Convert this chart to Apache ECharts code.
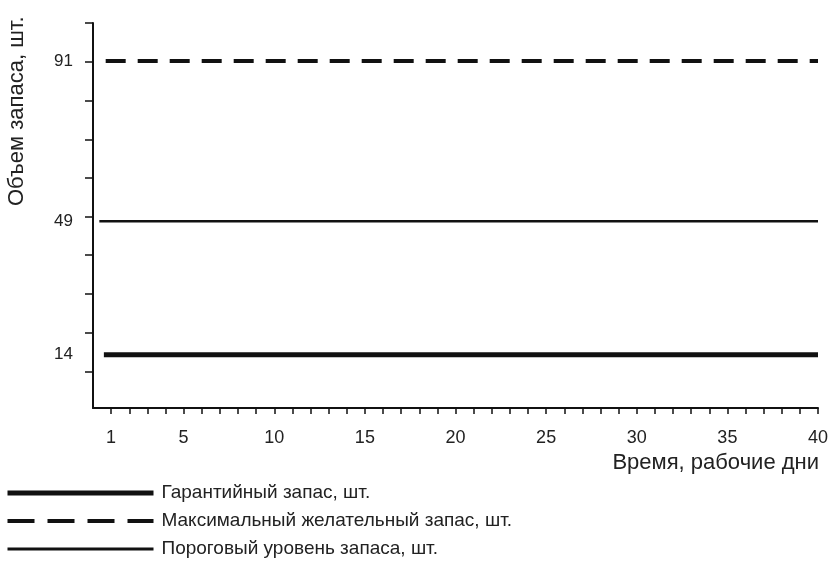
<!DOCTYPE html>
<html><head><meta charset="utf-8">
<script src="https://cdn.jsdelivr.net/npm/echarts@6/dist/echarts.min.js"></script>
<style>html,body{margin:0;padding:0;background:#fff}#c{width:832px;height:565px}</style>
</head><body><div id="c"></div>
<script>
// Data
const seriesNames = ['Гарантийный запас, шт.', 'Максимальный желательный запас, шт.', 'Пороговый уровень запаса, шт.'];
const guaranteeStock = [[0.6, 14], [40, 14]];
const maxDesiredStock = [[0.7, 91], [40, 91]];
const thresholdStock = [[0.35, 49], [40, 49]];
const yTickLabels = [14, 49, 91];
const yTickValues = [9.5, 19.7, 29.9, 40.1, 50.1, 60.3, 70.5, 80.7, 90.9, 101];
const xTickLabels = [1, 5, 10, 15, 20, 25, 30, 35, 40];
const xTickValues = Array.from({length: 40}, (_, i) => i + 1);
const yAxisName = 'Объем запаса, шт.';
const xAxisName = 'Время, рабочие дни';

const ink = '#111';
const font = 'Liberation Sans, Arial, sans-serif';
const chart = echarts.init(document.getElementById('c'), null, {renderer: 'canvas'});
chart.setOption({
  backgroundColor: '#fff',
  animation: false,
  grid: {left: 93, right: 14, top: 23, bottom: 157, containLabel: false},
  xAxis: {
    type: 'value', min: 0, max: 40,
    axisLine: {lineStyle: {color: ink, width: 2}},
    axisTick: {show: true, length: 6, lineStyle: {color: ink, width: 1.5}, customValues: xTickValues},
    axisLabel: {customValues: xTickLabels, color: '#222', fontSize: 18, fontFamily: font, margin: 21},
    splitLine: {show: false}
  },
  yAxis: {
    type: 'value', min: 0, max: 101,
    axisLine: {show: true, lineStyle: {color: ink, width: 2}},
    axisTick: {show: true, length: 8, lineStyle: {color: ink, width: 1.5}, customValues: yTickValues},
    axisLabel: {customValues: yTickLabels, color: '#222', fontSize: 17, fontFamily: font, margin: 20},
    splitLine: {show: false}
  },
  legend: {
    orient: 'vertical', left: 5, top: 483, padding: 0,
    itemWidth: 146, itemHeight: 20, itemGap: 8,
    itemStyle: {opacity: 0, borderWidth: 0},
    textStyle: {color: '#222', fontSize: 19, lineHeight: 20, fontFamily: font, padding: [0, 0, 0, 3]},
    data: [
      {name: seriesNames[0], lineStyle: {width: 5}},
      {name: seriesNames[1], lineStyle: {width: 4, type: [27, 13]}},
      {name: seriesNames[2], lineStyle: {width: 3}}
    ]
  },
  graphic: [
    {type: 'text', x: 17, y: 206, rotation: Math.PI / 2,
     style: {text: yAxisName, fill: '#222', font: '22px ' + font, textAlign: 'left', textVerticalAlign: 'middle'}},
    {type: 'text', x: 819, y: 463,
     style: {text: xAxisName, fill: '#222', font: '22px ' + font, textAlign: 'right', textVerticalAlign: 'middle'}}
  ],
  series: [
    {name: seriesNames[0], type: 'line', data: guaranteeStock, symbol: 'none',
     lineStyle: {color: ink, width: 5}, itemStyle: {color: ink}},
    {name: seriesNames[1], type: 'line', data: maxDesiredStock, symbol: 'none',
     lineStyle: {color: ink, width: 4, type: [20, 12]}, itemStyle: {color: ink}},
    {name: seriesNames[2], type: 'line', data: thresholdStock, symbol: 'none',
     lineStyle: {color: ink, width: 2.5}, itemStyle: {color: ink}}
  ]
});
</script></body></html>
